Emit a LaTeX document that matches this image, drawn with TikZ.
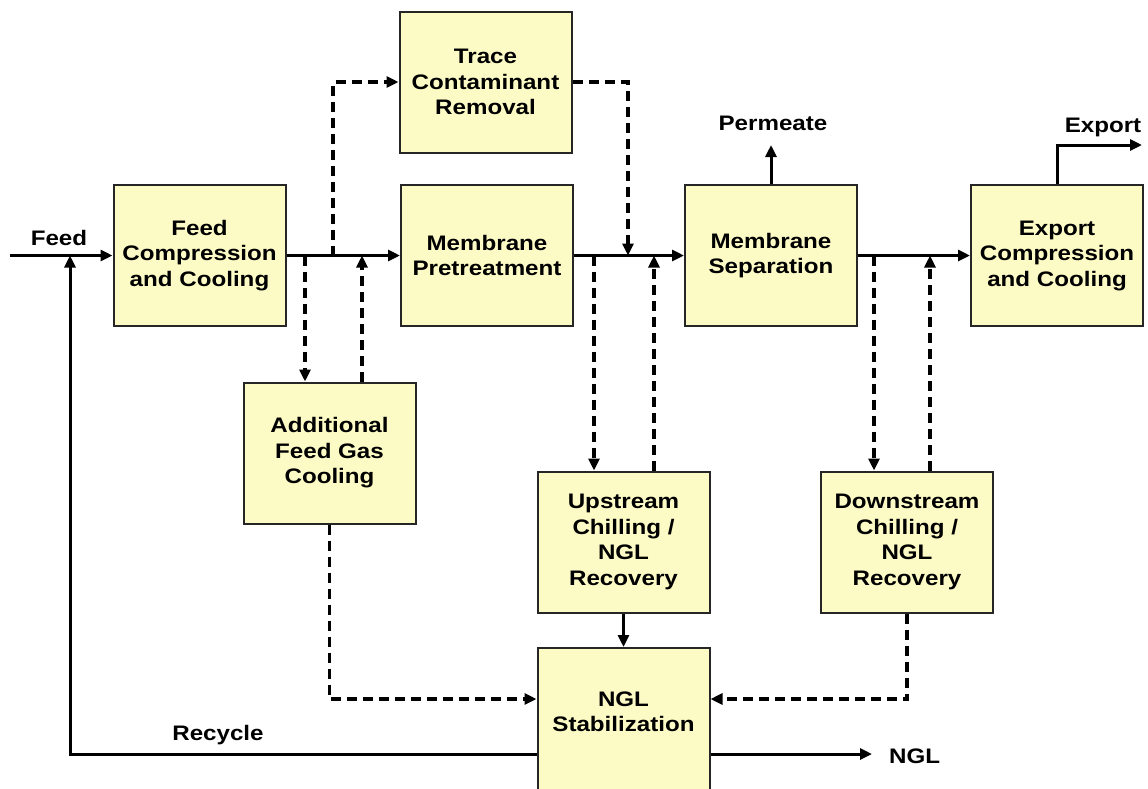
\documentclass[tikz,border=0pt]{standalone}
\usepackage{fontspec}
\setmainfont{Liberation Sans}[FakeStretch=1.15]
\usetikzlibrary{arrows.meta}
\definecolor{boxfill}{RGB}{253,251,197}
\begin{document}
\begin{tikzpicture}[x=1pt,y=-1pt,
  box/.style={draw=black!85, line width=2pt, fill=boxfill, minimum width=172pt, minimum height=141pt, inner sep=0pt, align=center, font=\fontsize{21}{25.5}\selectfont\bfseries},
  lbl/.style={font=\fontsize{21}{25.5}\selectfont\bfseries, inner sep=0pt},
  tip/.style={-{Triangle[length=12pt,width=11pt]}},
  flow/.style={line width=3pt, tip},
  dflow/.style={line width=3.2pt, dash pattern=on 10pt off 6pt, tip},
  ]
\useasboundingbox (0,0) rectangle (1148,788);
\clip (0,0) rectangle (1148,788);
\fill[white] (0,0) rectangle (1148,788);

\node[box] (fcc) at (199.5,255.5) {Feed\\Compression\\and Cooling};
\node[box] (trace) at (485.5,82) {Trace\\Contaminant\\Removal};
\node[box] (mpt) at (487,255.5) {Membrane\\Pretreatment};
\node[box] (msep) at (771,255.5) {Membrane\\Separation};
\node[box] (exp) at (1057,255.5) {Export\\Compression\\and Cooling};
\node[box] (addl) at (329.5,453) {Additional\\Feed Gas\\Cooling};
\node[box] (up) at (623.5,542) {Upstream\\Chilling /\\NGL\\Recovery};
\node[box] (down) at (907,542) {Downstream\\Chilling /\\NGL\\Recovery};
\node[box, minimum height=144pt] (ngl) at (623.5,720) {};
\node[lbl, align=center] (ngltxt) at (623.5,712) {NGL\\Stabilization};

\coordinate (feedin) at (10,255.5);
\coordinate (j1) at (305,255.5);
\coordinate (j2) at (362,255.5);
\coordinate (j3) at (333,255.5);
\coordinate (j4) at (628,255.5);
\coordinate (j5) at (594,255.5);
\coordinate (j6) at (654,255.5);
\coordinate (j7) at (874,255.5);
\coordinate (j8) at (930,255.5);
\coordinate (perm) at (771,145);
\coordinate (expout) at (1142,145);
\coordinate (recyc) at (70,255.5);
\coordinate (nglout) at (872,754);

\draw[flow] (feedin) -- (fcc.west);
\node[lbl] (feedlbl) at (59,238) {Feed};
\draw[flow] (fcc.east) -- (mpt.west);
\draw[dflow] (j1) -- (j1 |- addl.north);
\draw[dflow] (j2 |- addl.north) -- (j2);
\draw[dflow] (j3) |- (trace.west);
\draw[dflow] (trace.east) -| (j4);
\draw[flow] (mpt.east) -- (msep.west);
\draw[dflow] (j5) -- (j5 |- up.north);
\draw[dflow] (j6 |- up.north) -- (j6);
\draw[flow] (msep.north) -- (perm);
\node[lbl] (permlbl) at (773,123) {Permeate};
\draw[flow] (msep.east) -- (exp.west);
\draw[dflow] (j7) -- (j7 |- down.north);
\draw[dflow] (j8 |- down.north) -- (j8);
\draw[flow] (exp.north) |- (expout);
\node[lbl] (explbl) at (1103,127) {Export};
\draw[flow] (up.south) -- (ngl.north);
\draw[dflow] (addl.south) |- ([yshift=21pt]ngl.west);
\draw[dflow] (down.south) |- ([yshift=21pt]ngl.east);
\draw[flow] ([yshift=-34pt]ngl.west) -| (recyc);
\node[lbl] (reclbl) at (218,735) {Recycle};
\draw[flow] ([yshift=-34pt]ngl.east) -- (nglout);
\node[lbl, anchor=west] (ngllbl) at (889,756) {NGL};
\end{tikzpicture}
\end{document}
